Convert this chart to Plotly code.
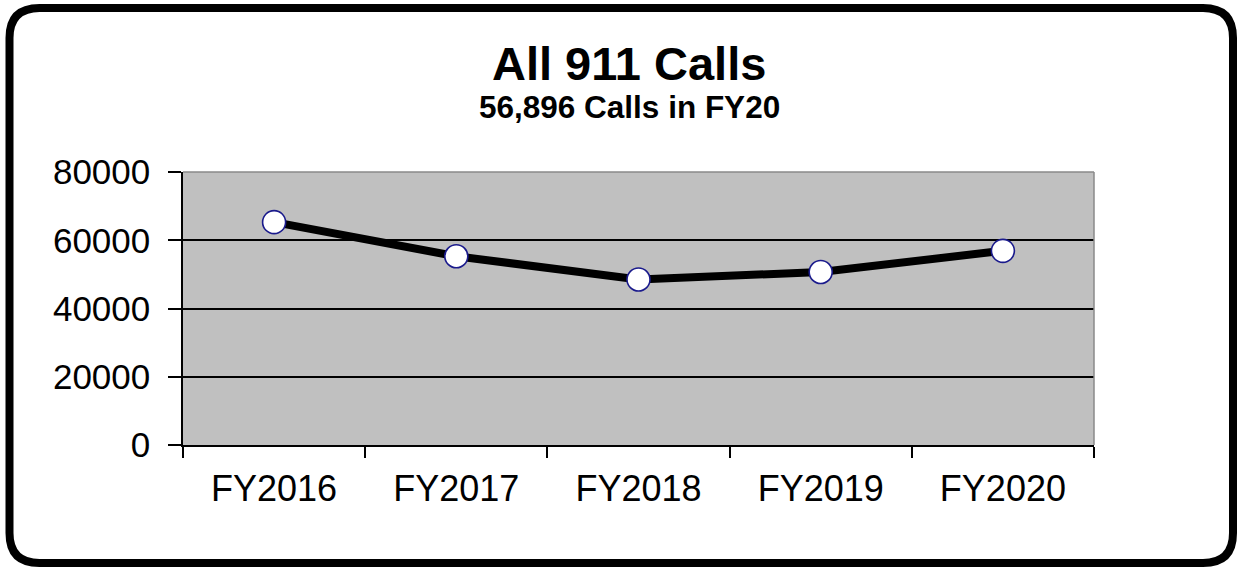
import plotly.graph_objects as go

# ---- data ----
categories = ["FY2016", "FY2017", "FY2018", "FY2019", "FY2020"]
calls = [65300, 55300, 48500, 50700, 56896]
y_ticks = [0, 20000, 40000, 60000, 80000]
title_text = "All 911 Calls"
subtitle_text = "56,896 Calls in FY20"

W, H = 1241, 569
L, R, T, B = 183, W - 1094, 172, H - 445
FONT = "Liberation Sans, Arial, sans-serif"

def px_x(px):
    return (px - L) / (W - L - R)

def px_y(py):
    return (H - B - py) / (H - T - B)

fig = go.Figure()
fig.add_trace(go.Scatter(
    x=categories, y=calls, mode="lines+markers",
    line=dict(color="black", width=8),
    marker=dict(size=23, color="white", line=dict(color="#1a1a8c", width=1.6)),
    showlegend=False, hoverinfo="skip",
))

# rounded outer border
x0, x1, y0, y1, r = 9.5, 1233, 8, 563, 30
def P(x, y):
    return f"{px_x(x):.5f},{px_y(y):.5f}"
path = (f"M {P(x0 + r, y0)} L {P(x1 - r, y0)} Q {P(x1, y0)} {P(x1, y0 + r)} "
        f"L {P(x1, y1 - r)} Q {P(x1, y1)} {P(x1 - r, y1)} "
        f"L {P(x0 + r, y1)} Q {P(x0, y1)} {P(x0, y1 - r)} "
        f"L {P(x0, y0 + r)} Q {P(x0, y0)} {P(x0 + r, y0)} Z")

shapes = [
    dict(type="path", path=path, xref="paper", yref="paper",
         line=dict(color="black", width=8), layer="above"),
    dict(type="line", xref="paper", yref="paper", x0=0, x1=1, y0=1, y1=1,
         line=dict(color="#8a8a8a", width=1.5), layer="above"),
    dict(type="line", xref="paper", yref="paper", x0=1, x1=1, y0=0, y1=1,
         line=dict(color="#8a8a8a", width=1.5), layer="above"),
]

fig.update_layout(
    width=W, height=H,
    margin=dict(l=L, r=R, t=T, b=B, pad=0),
    paper_bgcolor="white", plot_bgcolor="#C0C0C0",
    font=dict(family=FONT, color="black"),
    shapes=shapes,
    annotations=[
        dict(text=f"<b>{title_text}</b>", xref="paper", yref="paper",
             x=px_x(629), y=px_y(63), xanchor="center", yanchor="middle",
             showarrow=False, font=dict(size=47, family=FONT, color="black")),
        dict(text=f"<b>{subtitle_text}</b>", xref="paper", yref="paper",
             x=px_x(629), y=px_y(107), xanchor="center", yanchor="middle",
             showarrow=False, font=dict(size=31.5, family=FONT, color="black")),
    ],
)

fig.update_xaxes(
    type="category", range=[-0.5, 4.5], tickson="boundaries",
    ticks="outside", ticklen=11, tickwidth=1.5, tickcolor="black",
    showline=True, linecolor="black", linewidth=1.5,
    showgrid=False, tickfont=dict(size=36, family=FONT, color="black"),
    ticklabelstandoff=11,
)
fig.update_yaxes(
    range=[0, 80000], tickvals=y_ticks, ticktext=[str(v) for v in y_ticks],
    ticks="outside", ticklen=13, tickwidth=1.5, tickcolor="black",
    showline=True, linecolor="black", linewidth=1.5,
    showgrid=True, gridcolor="black", gridwidth=1.5, zeroline=False,
    tickfont=dict(size=35, family=FONT, color="black"),
    ticklabelstandoff=11,
)

fig.write_html("out.html")
